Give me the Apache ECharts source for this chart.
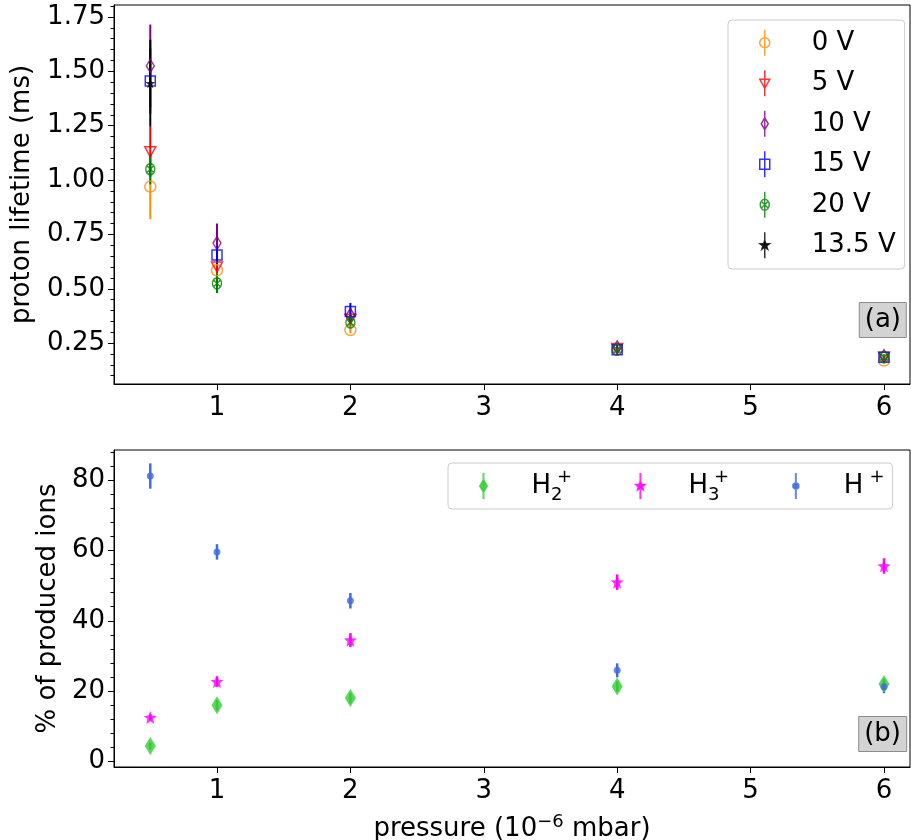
<!DOCTYPE html>
<html><head><meta charset="utf-8">
<script src="https://cdn.jsdelivr.net/npm/echarts@6/dist/echarts.min.js"></script>
<style>html,body{margin:0;padding:0;background:#fff}#c{width:911px;height:840px}</style>
</head><body><div id="c"></div>
<script>
// ---------- data ----------
const pressure = [0.5, 1, 2, 4, 6];
const life0V   = [0.97, 0.585, 0.31, 0.22, 0.17];
const err0V    = [0.15, 0.03, 0.015, 0.01, 0.01];
const life5V   = [1.13, 0.60, 0.36, 0.225, 0.185];
const err5V    = [0.115, 0.03, 0.02, 0.01, 0.01];
const life10V  = [1.525, 0.71, 0.38, 0.23, 0.19];
const err10V   = [0.19, 0.09, 0.03, 0.015, 0.01];
const life15V  = [1.455, 0.655, 0.395, 0.22, 0.185];
const err15V   = [0.15, 0.04, 0.04, 0.01, 0.01];
const life20V  = [1.05, 0.525, 0.345, 0.22, 0.185];
const err20V   = [0.07, 0.045, 0.02, 0.01, 0.01];
const pressure135 = [0.5];
const life135V = [1.445];
const err135V  = [0.2];

const ionH2  = [4.4, 16.0, 18.0, 21.3, 22.0];
const errH2  = [1.0, 1.5, 1.5, 1.5, 1.5];
const ionH3  = [12.5, 22.7, 34.5, 51.0, 55.6];
const errH3  = [0.8, 1.5, 2.0, 2.2, 2.2];
const ionH1  = [81.2, 59.6, 45.7, 25.9, 21.2];
const errH1  = [3.6, 2.2, 2.2, 2.0, 1.8];

const xTicks = [1, 2, 3, 4, 5, 6];
const yTicksTop = [0.25, 0.5, 0.75, 1.0, 1.25, 1.5, 1.75];
const yTicksBot = [0, 20, 40, 60, 80];

// ---------- helpers ----------
const FONT = 'DejaVu Sans';
const FS = 26;
const minorTop = [];
for (let i = 2; i <= 36; i++) { if (i % 5 !== 0) minorTop.push(+(i * 0.05).toFixed(2)); }
const minorBot = [];
for (let i = 0; i <= 22; i++) { if (i % 5 !== 0) minorBot.push(i * 4); }

function starPath(R, r) {
  let d = '';
  for (let i = 0; i < 10; i++) {
    const a = -Math.PI / 2 + i * Math.PI / 5;
    const rad = i % 2 ? r : R;
    d += (i ? 'L' : 'M') + (rad * Math.cos(a)).toFixed(2) + ',' + (rad * Math.sin(a)).toFixed(2);
  }
  return d + 'Z';
}
const circPath = r => `M${-r},0A${r},${r} 0 1,0 ${r},0A${r},${r} 0 1,0 ${-r},0Z`;
const LINE = 'M0,-13L0,13';
const oxPath = 'M-4.5,0A4.5,5.5 0 1,0 4.5,0A4.5,5.5 0 1,0 -4.5,0ZM-3.5,-3.5L3.5,3.5M3.5,-3.5L-3.5,3.5';

function errSeries(name, xs, ys, es, color, lw, xi, yi) {
  return {
    type: 'custom', name: name + '_err', xAxisIndex: xi, yAxisIndex: yi, silent: true,
    data: xs.map((x, i) => [x, ys[i], es[i]]),
    encode: { x: 0, y: 1 },
    renderItem: function (params, api) {
      const x = api.value(0), y = api.value(1), e = api.value(2);
      const a = api.coord([x, y - e]), b = api.coord([x, y + e]);
      return { type: 'line', shape: { x1: a[0], y1: a[1], x2: b[0], y2: b[1] },
               style: { stroke: color, lineWidth: lw } };
    }
  };
}
function markSeries(name, xs, ys, color, symbol, size, rotate, filled, xi, yi) {
  return {
    type: 'scatter', name: name, xAxisIndex: xi, yAxisIndex: yi, silent: true,
    data: xs.map((x, i) => [x, ys[i]]),
    symbol: symbol, symbolSize: size, symbolRotate: rotate || 0,
    itemStyle: filled ? { color: color, borderWidth: 0 }
                      : { color: 'rgba(0,0,0,0)', borderColor: color, borderWidth: 1.5 }
  };
}

const topGroups = [
  { n: '0 V',    xs: pressure,    ys: life0V,   es: err0V,   c: '#ff8c00', sym: 'circle', sz: 11, rot: 0, icon: LINE + circPath(5) },
  { n: '5 V',    xs: pressure,    ys: life5V,   es: err5V,   c: '#ff0000', sym: 'triangle', sz: [11, 10], rot: 180, icon: LINE + 'M-5,-4L5,-4L0,5Z' },
  { n: '10 V',   xs: pressure,    ys: life10V,  es: err10V,  c: '#800080', sym: 'diamond', sz: [8, 13], rot: 0, icon: LINE + 'M0,-6L3.5,0L0,6L-3.5,0Z' },
  { n: '15 V',   xs: pressure,    ys: life15V,  es: err15V,  c: '#0000ff', sym: 'rect', sz: 10, rot: 0, icon: LINE + 'M-5,-5L5,-5L5,5L-5,5Z' },
  { n: '20 V',   xs: pressure,    ys: life20V,  es: err20V,  c: '#008000', sym: 'path://' + oxPath, sz: [9, 11], rot: 0, icon: LINE + oxPath },
  { n: '13.5 V', xs: pressure135, ys: life135V, es: err135V, c: '#000000', sym: 'path://' + starPath(5, 2), sz: 10, rot: 0, icon: LINE + starPath(5, 2), filled: true }
];
const botGroups = [
  { n: 'H2+', xs: pressure, ys: ionH2, es: errH2, c: '#32cd32', sym: 'diamond', sz: [11, 18], icon: LINE + 'M0,-6L3.5,0L0,6L-3.5,0Z', rich: '{n|H}{sub|2}{sup|+}' },
  { n: 'H3+', xs: pressure, ys: ionH3, es: errH3, c: '#ff00ff', sym: 'path://' + starPath(5, 2.2), sz: 13, icon: LINE + starPath(4.5, 2), rich: '{n|H}{sub|3}{sup|+}' },
  { n: 'H+',  xs: pressure, ys: ionH1, es: errH1, c: '#4169e1', sym: 'circle', sz: 7, icon: LINE + circPath(2.8), rich: '{n|H}{sp|}{sup|+}' }
];

const series = [];
topGroups.forEach(g => {
  series.push(errSeries(g.n, g.xs, g.ys, g.es, g.c, 2, 0, 0));
  series.push(markSeries(g.n, g.xs, g.ys, g.c, g.sym, g.sz, g.rot, g.filled, 0, 0));
});
botGroups.forEach(g => {
  series.push(errSeries(g.n, g.xs, g.ys, g.es, g.c, 2.5, 1, 2));
  series.push(markSeries(g.n, g.xs, g.ys, g.c, g.sym, g.sz, 0, true, 1, 2));
});

const tickFont = { fontFamily: FONT, fontSize: FS, color: '#000' };
const richTop = {
  n: { fontFamily: FONT, fontSize: FS, color: '#000', lineHeight: 26, verticalAlign: 'middle' },
  s: { width: 36 }
};
const richBot = {
  n: { fontFamily: FONT, fontSize: FS, color: '#000', lineHeight: 36, verticalAlign: 'middle' },
  sub: { fontFamily: FONT, fontSize: 18, color: '#000', lineHeight: 18, verticalAlign: 'bottom', width: 6 },
  sup: { fontFamily: FONT, fontSize: 18, color: '#000', lineHeight: 18, verticalAlign: 'top' },
  sp: { width: 6 },
  s: { width: 37 }
};

const xCommon = (gi) => ({
  gridIndex: gi, type: 'value', min: 0.228, max: 6.195,
  axisLine: { show: true, onZero: false, lineStyle: { color: '#000', width: 1 } },
  axisTick: { show: true, customValues: xTicks, length: 6, lineStyle: { color: '#000' } },
  axisLabel: { show: true, customValues: xTicks, margin: 11, formatter: v => String(v), ...tickFont },
  splitLine: { show: false }
});
const yMain = (gi, min, max, ticks, fmt) => ({
  gridIndex: gi, type: 'value', min: min, max: max, position: 'left',
  axisLine: { show: true, onZero: false, lineStyle: { color: '#000', width: 1 } },
  axisTick: { show: true, customValues: ticks, length: 6, lineStyle: { color: '#000' } },
  axisLabel: { show: true, customValues: ticks, margin: 9, formatter: fmt, ...tickFont },
  splitLine: { show: false }
});
const yMinor = (gi, min, max, ticks) => ({
  gridIndex: gi, type: 'value', min: min, max: max, position: 'left', offset: 0,
  axisLine: { show: false },
  axisTick: { show: true, customValues: ticks, length: 3.5, lineStyle: { color: '#000' } },
  axisLabel: { show: false },
  splitLine: { show: false }
});

const TOPMIN = 0.062, TOPMAX = 1.805, BOTMIN = -1.6, BOTMAX = 88.6;
const boxText = { fontFamily: FONT, fontSize: FS, fontWeight: 'normal', color: '#000', lineHeight: 26 };

const option = {
  animation: false,
  backgroundColor: '#fff',
  grid: [
    { left: 114, top: 5, width: 796, height: 379, show: true, borderColor: '#000', borderWidth: 1, containLabel: false, outerBoundsMode: 'none' },
    { left: 114, top: 450, width: 796, height: 317, show: true, borderColor: '#000', borderWidth: 1, containLabel: false, outerBoundsMode: 'none' }
  ],
  title: [
    { text: '(a)', right: 4, top: 302, padding: [5, 6], backgroundColor: '#d3d3d3', borderColor: '#8c8c8c', borderWidth: 1, textStyle: boxText },
    { text: '(b)', right: 4, top: 716, padding: [5, 6], backgroundColor: '#d3d3d3', borderColor: '#8c8c8c', borderWidth: 1, textStyle: boxText }
  ],
  legend: [
    {
      orient: 'vertical', left: 728, top: 20, padding: [9, 9, 10, 31],
      itemWidth: 12, itemHeight: 26, itemGap: 13,
      backgroundColor: 'rgba(255,255,255,0.85)', borderColor: '#cccccc', borderWidth: 1, borderRadius: 4,
      data: topGroups.map(g => ({
        name: g.n, icon: 'path://' + g.icon,
        itemStyle: g.filled ? { color: g.c, borderColor: g.c, borderWidth: 1.5 }
                            : { color: 'rgba(0,0,0,0)', borderColor: g.c, borderWidth: 1.5 }
      })),
      formatter: name => '{s|}{n|' + name + '}',
      textStyle: { rich: richTop },
      selectedMode: false
    },
    {
      orient: 'horizontal', left: 448, top: 463, padding: [5, 8, 5, 31],
      itemWidth: 12, itemHeight: 26, itemGap: 63,
      backgroundColor: 'rgba(255,255,255,0.85)', borderColor: '#cccccc', borderWidth: 1, borderRadius: 4,
      data: botGroups.map(g => ({
        name: g.n, icon: 'path://' + g.icon,
        itemStyle: { color: g.c, borderColor: g.c, borderWidth: 2 }
      })),
      formatter: name => '{s|}' + botGroups.find(g => g.n === name).rich,
      textStyle: { rich: richBot },
      selectedMode: false
    }
  ],
  xAxis: [
    xCommon(0),
    Object.assign(xCommon(1), {
      name: '{a|pressure (10}{sup|−6}{a| mbar)}', nameLocation: 'middle', nameGap: 46,
      nameTextStyle: { rich: {
        a: { fontFamily: FONT, fontSize: FS, color: '#000', lineHeight: 32, verticalAlign: 'middle' },
        sup: { fontFamily: FONT, fontSize: 18, color: '#000', lineHeight: 18, verticalAlign: 'top' }
      } }
    })
  ],
  yAxis: [
    Object.assign(yMain(0, TOPMIN, TOPMAX, yTicksTop, v => v.toFixed(2)), {
      name: 'proton lifetime (ms)', nameLocation: 'middle', nameGap: 79,
      nameTextStyle: { fontFamily: FONT, fontSize: FS, color: '#000' }
    }),
    yMinor(0, TOPMIN, TOPMAX, minorTop),
    Object.assign(yMain(1, BOTMIN, BOTMAX, yTicksBot, v => String(v)), {
      name: '% of produced ions', nameLocation: 'middle', nameGap: 50,
      nameTextStyle: { fontFamily: FONT, fontSize: FS, color: '#000' }
    }),
    yMinor(1, BOTMIN, BOTMAX, minorBot)
  ],
  series: series
};

const chart = echarts.init(document.getElementById('c'), null, { renderer: 'canvas' });
chart.setOption(option);
</script>
</body></html>
